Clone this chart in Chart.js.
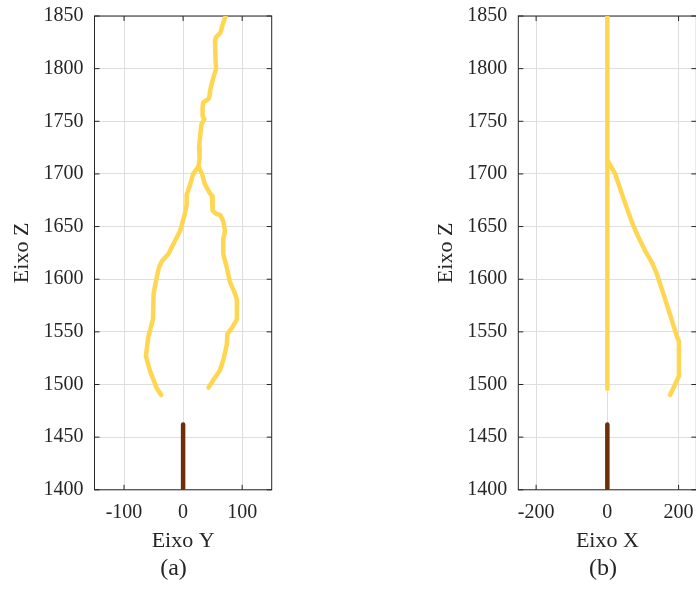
<!DOCTYPE html>
<html>
<head>
<meta charset="utf-8">
<script src="https://cdn.jsdelivr.net/npm/chart.js@4.4.1/dist/chart.umd.min.js"></script>
<style>
  html, body { margin: 0; padding: 0; background: #fff; overflow: hidden; }
  #wrap { position: relative; width: 696px; height: 590px; overflow: hidden; }
  canvas { position: absolute; top: -7.5px; }
  #chartA { left: 0; }
  #chartB { left: 348px; }
  .cap { position: absolute; top: 552px; width: 80px; margin-left: -40px; text-align: center;
         font: 24px "Liberation Serif", serif; color: #262626; line-height: 30px; }
</style>
</head>
<body>
<div id="wrap">
  <canvas id="chartA" width="348" height="590"></canvas>
  <canvas id="chartB" width="360" height="590"></canvas>
  <div class="cap" style="left:173.5px">(a)</div>
  <div class="cap" style="left:603px">(b)</div>
</div>
<script>
// panel (a): Eixo Y / Eixo Z
var trunkY = [72, 66, 63, 56, 54, 55, 56, 51, 46, 44, 40, 34, 33, 33, 36, 31, 29, 27, 28, 26];
var trunkZ = [1850, 1840, 1834, 1830, 1827, 1807, 1800, 1791, 1780, 1772, 1770, 1768, 1763, 1755, 1752, 1747, 1737, 1725, 1715, 1707];
var leftY = [26, 17, 12, 6, 6, 3, -5, -16, -25, -36, -41, -46, -50, -51, -59, -63, -56, -45, -37];
var leftZ = [1707, 1700, 1690, 1680, 1671, 1662, 1646, 1634, 1624, 1617, 1611, 1598, 1586, 1562, 1545, 1527, 1513, 1497, 1490];
var rightY = [26, 32, 37, 45, 49, 50, 56, 63, 68, 71, 68, 68, 74, 79, 88, 91, 91, 83, 75, 74, 68, 62, 52, 43];
var rightZ = [1707, 1700, 1690, 1682, 1679, 1665, 1662, 1661, 1655, 1646, 1638, 1624, 1611, 1598, 1586, 1581, 1562, 1554, 1548, 1538, 1523, 1513, 1505, 1497];

// panel (b): Eixo X / Eixo Z
var stemX = [0, 0];
var stemZ = [1496, 1850];
var branchX = [2, 22, 45, 68, 83, 106, 125, 139, 167, 195, 201, 201, 190, 176];
var branchZ = [1712, 1700, 1677, 1655, 1643, 1627, 1616, 1605, 1576, 1546, 1541, 1508, 1500, 1490];

// base (brown) in both panels
var baseX = [0, 0];
var baseZ = [1400, 1462];

var zTicks = [1400, 1450, 1500, 1550, 1600, 1650, 1700, 1750, 1800, 1850];
var yTicksA = [-100, 0, 100];
var xTicksB = [-200, 0, 200];

var yellow = 'rgb(255, 214, 82)';
var brown = 'rgb(110, 46, 8)';
var axisColor = '#262626';
var gridColor = '#dedede';
var serif = '"Liberation Serif", "Times New Roman", serif';

function pts(xs, zs) {
  return xs.map(function (v, i) { return { x: v, y: zs[i] }; });
}

function line(data, color) {
  return {
    data: data,
    showLine: true,
    borderColor: color,
    backgroundColor: color,
    borderWidth: 4.5,
    borderCapStyle: 'round',
    borderJoinStyle: 'round',
    pointRadius: 0,
    pointHoverRadius: 0,
    tension: 0
  };
}

function plain(v) { return String(v); }

// MATLAB-like box with ticks pointing inward
var boxPlugin = {
  id: 'box',
  beforeDatasetsDraw: function (chart) {
    var ctx = chart.ctx, a = chart.chartArea;
    var sx = chart.scales.x, sy = chart.scales.y;
    ctx.save();
    ctx.strokeStyle = axisColor;
    ctx.lineWidth = 1;
    ctx.strokeRect(a.left, a.top, a.right - a.left, a.bottom - a.top);
    ctx.beginPath();
    sx.ticks.forEach(function (t) {
      var p = sx.getPixelForValue(t.value);
      ctx.moveTo(p, a.bottom); ctx.lineTo(p, a.bottom - 5);
      ctx.moveTo(p, a.top); ctx.lineTo(p, a.top + 5);
    });
    sy.ticks.forEach(function (t) {
      var p = sy.getPixelForValue(t.value);
      ctx.moveTo(a.left, p); ctx.lineTo(a.left + 5, p);
      ctx.moveTo(a.right, p); ctx.lineTo(a.right - 5, p);
    });
    ctx.stroke();
    ctx.restore();
  }
};

function makeChart(id, datasets, xMin, xMax, xTicks, xTitle, padL, padR) {
  return new Chart(document.getElementById(id).getContext('2d'), {
    type: 'scatter',
    data: { datasets: datasets },
    options: {
      responsive: false,
      animation: false,
      events: [],
      layout: { padding: { left: padL, right: padR, top: 14.5, bottom: 27.2 } },
      plugins: { legend: { display: false }, tooltip: { enabled: false } },
      scales: {
        x: {
          type: 'linear',
          min: xMin,
          max: xMax,
          afterBuildTicks: function (s) { s.ticks = xTicks.map(function (v) { return { value: v }; }); },
          afterFit: function (s) { s.height = 66; },
          grid: { color: gridColor, lineWidth: 1, drawTicks: false },
          border: { display: false },
          ticks: { padding: 11, color: axisColor, font: { family: serif, size: 20 }, maxRotation: 0, callback: plain },
          title: { display: true, text: xTitle, color: axisColor, font: { family: serif, size: 22 }, padding: { top: 0, bottom: 1.6 } }
        },
        y: {
          type: 'linear',
          min: 1400,
          max: 1850,
          afterBuildTicks: function (s) { s.ticks = zTicks.map(function (v) { return { value: v }; }); },
          afterFit: function (s) { s.width = 94.5; },
          grid: { color: gridColor, lineWidth: 1, drawTicks: false },
          border: { display: false },
          ticks: { padding: 11, color: axisColor, font: { family: serif, size: 20 }, callback: plain },
          title: { display: true, text: 'Eixo Z', color: axisColor, font: { family: serif, size: 22 }, padding: { top: 8.8, bottom: 0 } }
        }
      }
    },
    plugins: [boxPlugin]
  });
}

var chartA = makeChart('chartA', [
  line(pts(baseX, baseZ), brown),
  line(pts(trunkY, trunkZ), yellow),
  line(pts(leftY, leftZ), yellow),
  line(pts(rightY, rightZ), yellow)
], -150, 150, yTicksA, 'Eixo Y', 0, 76.3);

var chartB = makeChart('chartB', [
  line(pts(baseX, baseZ), brown),
  line(pts(stemX, stemZ), yellow),
  line(pts(branchX, branchZ), yellow)
], -250, 250, xTicksB, 'Eixo X', 75.8, 11.6);
</script>
</body>
</html>
